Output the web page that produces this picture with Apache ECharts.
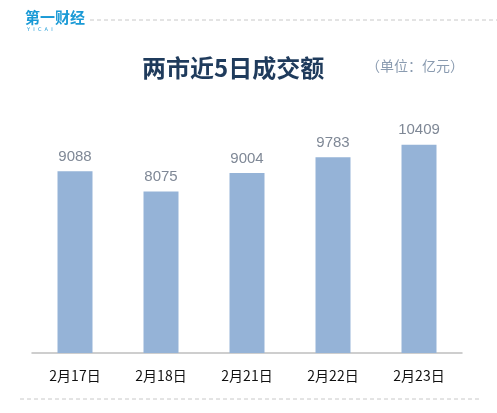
<!DOCTYPE html>
<html><head><meta charset="utf-8">
<script src="https://cdn.jsdelivr.net/npm/echarts@6/dist/echarts.min.js"></script>
<style>html,body{margin:0;padding:0;background:#fff}#c{width:497px;height:413px}</style>
</head><body><div id="c"></div>
<script>
const categories = ['2月17日','2月18日','2月21日','2月22日','2月23日'];
const values = [9088, 8075, 9004, 9783, 10409];
const chart = echarts.init(document.getElementById('c'));
chart.setOption({
  animation: false,
  backgroundColor: '#fff',
  graphic: [
    {type:'text', left:25, top:10, style:{text:'第一财经', fill:'#1a9ad6', font:'bold 15px "Noto Sans CJK SC"'}},
    {type:'text', left:27, top:27, style:{text:'Y  I  C  A  I', fill:'#1a9ad6', font:'5px "DejaVu Sans"'}},
    {type:'line', shape:{x1:90,y1:20,x2:497,y2:20}, style:{stroke:'#c8c8c8', lineWidth:1, lineDash:[4,3]}},
    {type:'line', shape:{x1:20,y1:399,x2:480,y2:399}, style:{stroke:'#c8c8c8', lineWidth:1, lineDash:[4,3]}},
    {type:'text', left:142, top:56, style:{text:'两市近5日成交额', fill:'#1f3b5c', font:'bold 24px "Noto Sans CJK SC"'}},
    {type:'text', left:366, top:59, style:{text:'（单位：亿元）', fill:'#8a9bb0', font:'14px "Noto Sans CJK SC"'}}
  ],
  grid: {left:32, right:35, top:113, bottom:60},
  xAxis: {
    type:'category', data: categories,
    axisLine:{lineStyle:{color:'#bfbfbf', width:1.5}},
    axisTick:{show:false},
    axisLabel:{color:'#111', fontSize:14, margin:16, fontFamily:'"Noto Sans CJK SC"'}
  },
  yAxis: {type:'value', min:0, max:12000, show:false, splitLine:{show:false}},
  series: [{
    type:'bar', data: values, barWidth:35,
    itemStyle:{color:'#95b3d7'},
    label:{show:true, position:'top', distance:7, color:'#7f8896', fontSize:15, fontFamily:'"Liberation Sans"'}
  }]
});
</script></body></html>
